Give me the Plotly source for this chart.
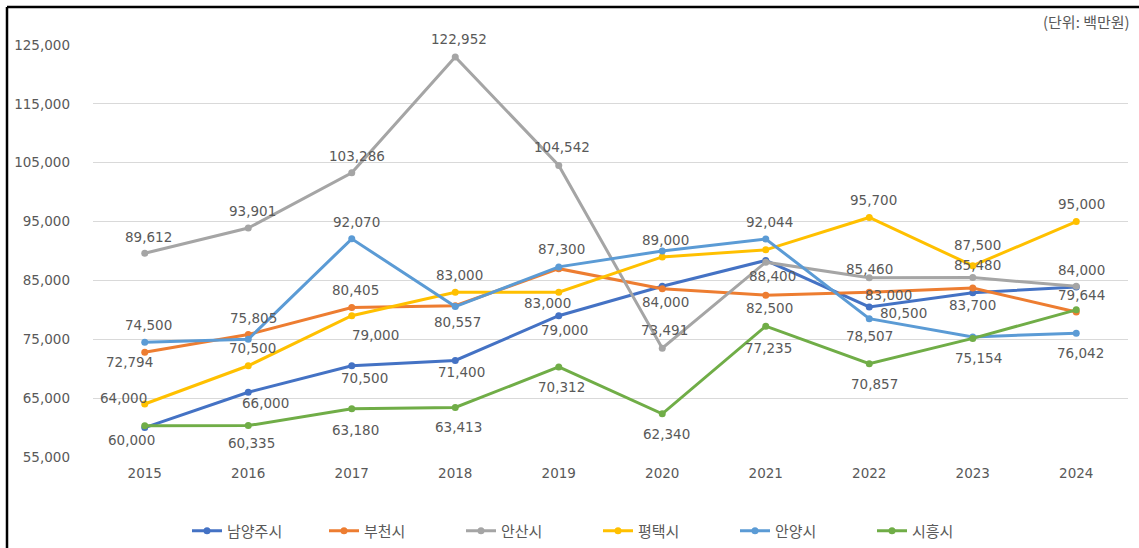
import plotly.graph_objects as go

years = ["2015", "2016", "2017", "2018", "2019", "2020", "2021", "2022", "2023", "2024"]

namyangju = [60000, 66000, 70500, 71400, 79000, 84000, 88400, 80500, 82900, 83900]
bucheon = [72794, 75805, 80405, 80700, 87000, 83600, 82500, 83000, 83700, 79644]
ansan = [89612, 93901, 103286, 122952, 104542, 73491, 88100, 85460, 85480, 84000]
pyeongtaek = [64000, 70500, 79000, 83000, 83000, 89000, 90200, 95700, 87500, 95000]
anyang = [74500, 75000, 92070, 80557, 87300, 90000, 92044, 78507, 75400, 76042]
siheung = [60300, 60335, 63180, 63413, 70312, 62340, 77235, 70857, 75154, 80000]

series_names = ["남양주시", "부천시", "안산시", "평택시", "안양시", "시흥시"]
series_values = [namyangju, bucheon, ansan, pyeongtaek, anyang, siheung]
series_colors = ["#4472C4", "#ED7D31", "#A5A5A5", "#FFC000", "#5B9BD5", "#70AD47"]

y_ticks = [55000, 65000, 75000, 85000, 95000, 105000, 115000, 125000]
unit_text = "(단위: 백만원)"

# data-label placement (pixel offsets from the point; None = no label shown)
label_offsets = [
    [(-13, -12.6), (17, -11), (13, -12.4), (6.5, -11.7), (6, -14), (3, -16), (7, -15.7), (34, -6), None, None],
    [(-15, -10), (5, 16.7), (3.5, 17.4), None, None, None, (3.5, -13.3), (19, -2.7), (0, -17), (5, 17.3)],
    [(3.7, 16.7), (4, 17.3), (5, 17.3), (4, 18.3), (3.4, 18.3), (2.5, 17.7), None, (0, 9), (4.5, 13), (5, 16.7)],
    [(-21, 5.7), (4, 17.7), (24, -19.3), (4, 17.3), (-11, -10.3), (3.7, 17.3), None, (4.5, 17.7), (4.5, 20.5), (5.5, 17.7)],
    [(4, 17.7), None, (4.5, 16.7), (2.7, -15.3), (3, 17.7), None, (4, 16.7), (0, -17.3), None, (4, -20.3)],
    [None, (3, -17.3), (4, -21), (3, -19.3), (3, -20), (4, -20), (3, -21.7), (5, -20.7), (5.4, -20), None],
]

TXT = "#595959"
NUM_FONT = "DejaVu Sans"
KR_FONT = "Noto Sans CJK KR"

fig = go.Figure()
for name, vals, col in zip(series_names, series_values, series_colors):
    fig.add_trace(go.Scatter(
        x=years, y=vals, name=name, mode="lines+markers",
        line=dict(color=col, width=3),
        marker=dict(color=col, size=7, symbol="circle"),
    ))

annotations = []
for vals, offs in zip(series_values, label_offsets):
    for idx, (v, off) in enumerate(zip(vals, offs)):
        if off is None:
            continue
        annotations.append(dict(
            x=idx, y=v, xref="x", yref="y", text=f"{v:,}", showarrow=False,
            xanchor="center", yanchor="middle", xshift=off[0], yshift=off[1],
            font=dict(family=NUM_FONT, size=13.5, color=TXT),
        ))

W, H = 1139, 548
ml, mr, mt, mb = 93, 11, 45, 91
pw, ph = W - ml - mr, H - mt - mb

def px_x(px):
    return (px - ml) / pw

def px_y(py):
    return (H - mb - py) / ph

annotations.append(dict(
    x=px_x(1132), y=px_y(22), xref="paper", yref="paper", text=unit_text,
    showarrow=False, xanchor="right", yanchor="middle",
    font=dict(family=KR_FONT, size=15, color=TXT),
))

shapes = [
    dict(type="line", xref="paper", yref="paper", x0=px_x(7), x1=px_x(1145), y0=px_y(7), y1=px_y(7),
         line=dict(color="black", width=2.5)),
    dict(type="line", xref="paper", yref="paper", x0=px_x(7), x1=px_x(7), y0=px_y(7), y1=px_y(560),
         line=dict(color="black", width=2.5)),
]

fig.update_layout(
    width=W, height=H,
    margin=dict(l=ml, r=mr, t=mt, b=mb, autoexpand=False),
    paper_bgcolor="white", plot_bgcolor="white",
    showlegend=True,
    legend=dict(
        orientation="h", x=px_x(187), xanchor="left", y=px_y(531), yanchor="middle",
        font=dict(family=KR_FONT, size=15, color=TXT),
        entrywidth=92, entrywidthmode="pixels", itemwidth=30,
    ),
    annotations=annotations,
    shapes=shapes,
    xaxis=dict(
        type="category", range=[-0.5, 9.5], showgrid=False, showline=False, zeroline=False,
        ticks="", tickfont=dict(family=NUM_FONT, size=13.5, color=TXT), ticklabelstandoff=6,
    ),
    yaxis=dict(
        range=[55000, 125000], tickvals=y_ticks, tickformat=",", showgrid=True,
        gridcolor="#D9D9D9", gridwidth=1, zeroline=False, showline=False, ticks="",
        tickfont=dict(family=NUM_FONT, size=13.5, color=TXT), ticklabelstandoff=22,
    ),
)

fig.write_html("out.html", config={"displayModeBar": False},
               post_script="document.body.style.margin='0';")
